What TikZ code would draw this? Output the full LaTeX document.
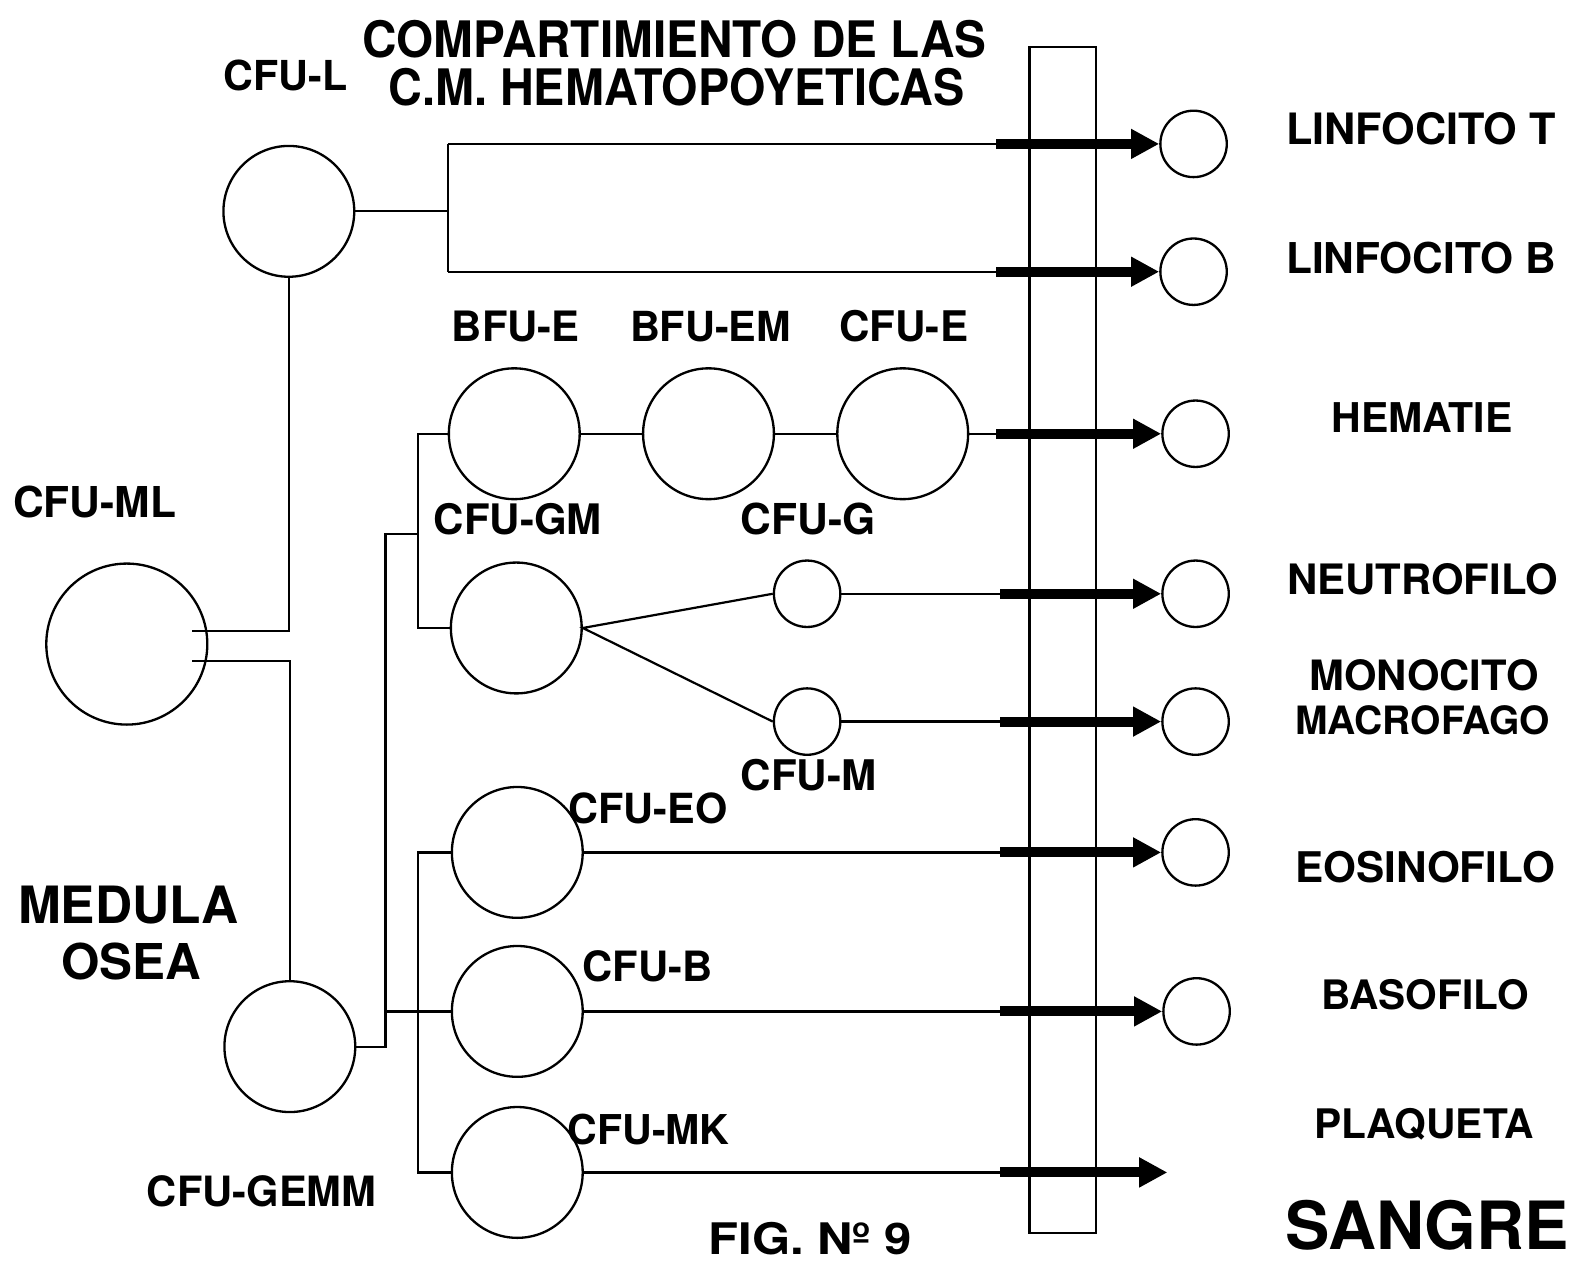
\documentclass[tikz,border=0pt]{standalone}
\usepackage{fontspec}
\setmainfont{TeX Gyre Heros}
\usetikzlibrary{arrows.meta}
\newcommand\lblw[2]{\resizebox{#1pt}{!}{\bfseries #2}}
\newcommand\lblwh[3]{\resizebox{#1pt}{#2pt}{\bfseries #3}}
\begin{document}
\begin{tikzpicture}[x=1pt,y=-1pt,line width=2.2pt,
  cell/.style={draw,circle,inner sep=0pt,minimum size=130pt,line width=2.3pt},
  smallcell/.style={draw,circle,inner sep=0pt,minimum size=66pt,line width=2.3pt},
  bigcell/.style={draw,circle,inner sep=0pt,minimum size=160pt,line width=2.3pt},
  txt/.style={anchor=base west,inner sep=0pt,outer sep=0pt},
  fat/.style={line width=10pt,-{Triangle[length=28pt,width=28pt]}}]
\fill[white] (0,0) rectangle (1568,1257);
\useasboundingbox (0,0) rectangle (1568,1257);

% compartment box
\draw (1023,47) rectangle (1089,1225);

% cells
\node[bigcell] (ML) at (126,640) {};
\node[cell] (L) at (287,210) {};
\node[cell] (G) at (288,1040) {};
\node[cell] (BE) at (511,431) {};
\node[cell] (BEM) at (704,431) {};
\node[cell] (CE) at (897,431) {};
\node[cell] (GM) at (513,624) {};
\node[smallcell] (CG) at (802,590) {};
\node[smallcell] (CM) at (802,717) {};
\node[cell] (EO) at (514,847) {};
\node[cell] (CB) at (514,1005) {};
\node[cell] (MK) at (514,1165) {};

% mature cells
\node[smallcell] (T) at (1186,143) {};
\node[smallcell] (B) at (1186,270) {};
\node[smallcell] (H) at (1188,431) {};
\node[smallcell] (N) at (1188,590) {};
\node[smallcell] (Mo) at (1188,717) {};
\node[smallcell] (Eo) at (1188,847) {};
\node[smallcell] (Ba) at (1189,1005) {};

% junction coordinates
\coordinate (ml1) at (191,627);
\coordinate (ml2) at (191,657);
\coordinate (lt) at (445,143);
\coordinate (lb) at (445,270);
\coordinate (ja) at (383,531);
\coordinate (jb) at (415,531);
\coordinate (v1) at (415,431);
\coordinate (jd) at (383,1005);
\coordinate (v2) at (415,847);
\coordinate (aT) at (990,143);
\coordinate (aB) at (990,270);
\coordinate (aH) at (990,431);
\coordinate (aN) at (994,590);
\coordinate (aM) at (994,717);
\coordinate (aE) at (994,847);
\coordinate (aBa) at (994,1005);
\coordinate (aP) at (994,1165);
\coordinate (tipP) at (1160,1165);

% thin connectors
\draw (ml1) -| (L.south);
\draw (ml2) -| (G.north);
\draw (L.east) -- (L.east -| lt);
\draw (lt) -- (lb);
\draw (lt) -- (aT);
\draw (lb) -- (aB);
\draw (G.east) -| (ja) -- (jb);
\draw (BE.west) -- (v1) |- (GM.west);
\draw (jd) -- (CB.west);
\draw (EO.west) -- (v2) |- (MK.west);
\draw (BE.east) -- (BEM.west);
\draw (BEM.east) -- (CE.west);
\draw (CE.east) -- (aH);
\draw (CG.west) -- (GM.east) -- (CM.west);
\draw (CG.east) -- (aN);
\draw (CM.east) -- (aM);
\draw (EO.east) -- (aE);
\draw (CB.east) -- (aBa);
\draw (MK.east) -- (aP);

% thick arrows
\draw[fat] (aT) -- (T.west);
\draw[fat] (aB) -- (B.west);
\draw[fat] (aH) -- (H.west);
\draw[fat] (aN) -- (N.west);
\draw[fat] (aM) -- (Mo.west);
\draw[fat] (aE) -- (Eo.west);
\draw[fat] (aBa) -- (Ba.west);
\draw[fat] (aP) -- (tipP);

% labels
\node[txt] (t1) at (360,57) {\lblwh{620}{37}{COMPARTIMIENTO DE LAS}};
\node[txt] (t2) at (386,105) {\lblwh{572}{37}{C.M. HEMATOPOYETICAS}};
\node[txt] (lL) at (222,90) {\lblw{123}{CFU-L}};
\node[txt] (lT) at (1278,144) {\lblw{268}{LINFOCITO T}};
\node[txt] (lB) at (1278,272) {\lblw{268}{LINFOCITO B}};
\node[txt] (lBE) at (449,339) {\lblw{127}{BFU-E}};
\node[txt] (lBEM) at (626,339) {\lblw{160}{BFU-EM}};
\node[txt] (lCE) at (834,339) {\lblw{128}{CFU-E}};
\node[txt] (lH) at (1323,430) {\lblw{180}{HEMATIE}};
\node[txt] (lML) at (13,514) {\lblw{162}{CFU-ML}};
\node[txt] (lGM) at (431,531) {\lblw{167}{CFU-GM}};
\node[txt] (lCG) at (736,531) {\lblw{134}{CFU-G}};
\node[txt] (lN) at (1279,591) {\lblw{269}{NEUTROFILO}};
\node[txt] (lMo) at (1301,686) {\lblw{228}{MONOCITO}};
\node[txt] (lMa) at (1287,730) {\lblw{253}{MACROFAGO}};
\node[txt] (lCM) at (736,785) {\lblw{135}{CFU-M}};
\node[txt] (lEO) at (565,818) {\lblw{158}{CFU-EO}};
\node[txt] (lEo) at (1287,877) {\lblw{258}{EOSINOFILO}};
\node[txt] (lMed) at (18,918) {\lblw{219}{MEDULA}};
\node[txt] (lOs) at (61,973) {\lblw{139}{OSEA}};
\node[txt] (lCB) at (579,975) {\lblw{129}{CFU-B}};
\node[txt] (lBa) at (1313,1003) {\lblw{206}{BASOFILO}};
\node[txt] (lP) at (1306,1131) {\lblw{218}{PLAQUETA}};
\node[txt] (lMK) at (564,1137) {\lblw{161}{CFU-MK}};
\node[txt] (lGE) at (146,1199) {\lblw{228}{CFU-GEMM}};
\node[txt] (lFig) at (704,1247) {\lblwh{202}{32}{FIG. Nº 9}};
\node[txt] (lS) at (1277,1242) {\lblw{282}{SANGRE}};
\end{tikzpicture}
\end{document}
